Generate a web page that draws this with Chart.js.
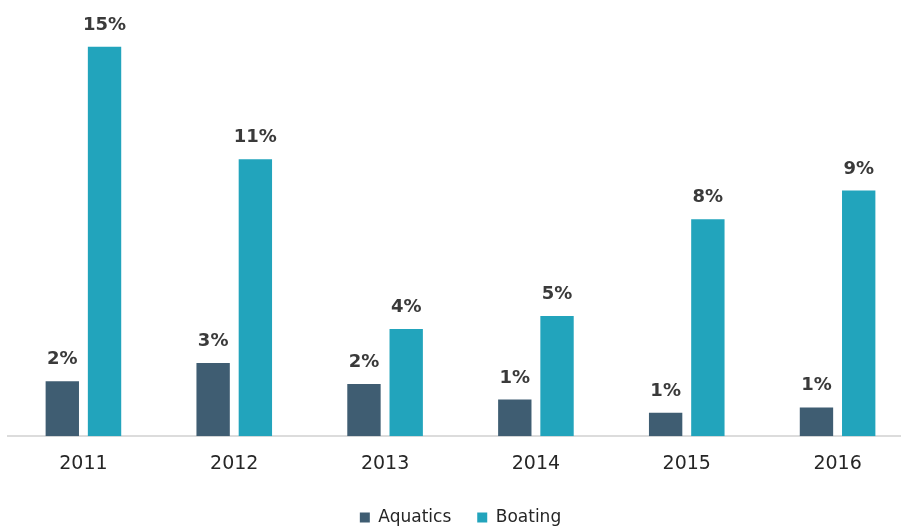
<!DOCTYPE html>
<html>
<head>
<meta charset="utf-8">
<script src="https://cdn.jsdelivr.net/npm/chart.js@4.4.1/dist/chart.umd.min.js"></script>
<style>
  html, body { margin: 0; padding: 0; background: #fff; overflow: hidden; }
  #wrap { width: 913px; height: 527px; position: relative; }
</style>
</head>
<body>
<div id="wrap"><canvas id="chart"></canvas></div>
<script>
const years = ['2011', '2012', '2013', '2014', '2015', '2016'];
const aquatics = [2.1, 2.8, 2.0, 1.4, 0.9, 1.1];
const boating = [14.9, 10.6, 4.1, 4.6, 8.3, 9.4];

const slate = '#3f5d72';
const teal = '#22a4bc';
const font = '"DejaVu Sans", Verdana, sans-serif';

// labels above each bar, rounded to whole percent
const barLabels = {
  id: 'barLabels',
  afterDatasetsDraw(chart) {
    const ctx = chart.ctx;
    ctx.save();
    ctx.font = 'bold 18px ' + font;
    ctx.fillStyle = '#3a3a3a';
    ctx.textAlign = 'center';
    ctx.textBaseline = 'alphabetic';
    chart.data.datasets.forEach((ds, i) => {
      chart.getDatasetMeta(i).data.forEach((bar, j) => {
        ctx.fillText(Math.round(ds.data[j]) + '%', bar.x, bar.y - 17);
      });
    });
    ctx.restore();
  }
};

new Chart(document.getElementById('chart'), {
  type: 'bar',
  data: {
    labels: years,
    datasets: [
      { label: 'Aquatics', data: aquatics, backgroundColor: slate },
      { label: 'Boating', data: boating, backgroundColor: teal },
    ],
  },
  options: {
    responsive: true,
    maintainAspectRatio: false,
    animation: false,
    datasets: {
      bar: { categoryPercentage: 0.56, barPercentage: 0.79 },
    },
    layout: { padding: { top: 18, left: 8, right: 0, bottom: -9 } },
    plugins: {
      tooltip: { enabled: false },
      legend: {
        position: 'bottom',
        labels: {
          boxWidth: 10,
          boxHeight: 10,
          color: '#262626',
          padding: 26,
          font: { family: font, size: 17 },
        },
      },
    },
    scales: {
      x: {
        grid: { display: false },
        border: { display: true, color: '#dcdcdc', width: 2 },
        ticks: { color: '#262626', padding: 8, font: { family: font, size: 19 } },
      },
      y: {
        display: false,
        min: 0,
        max: 16,
      },
    },
  },
  plugins: [barLabels],
});
</script>
</body>
</html>
